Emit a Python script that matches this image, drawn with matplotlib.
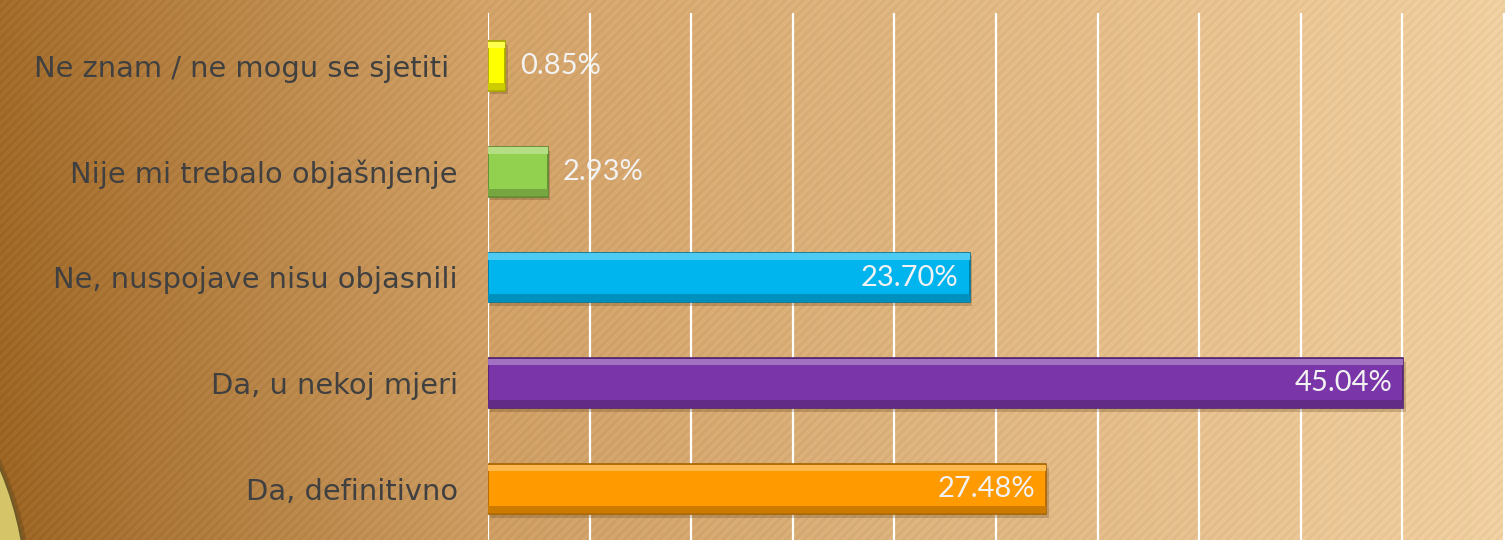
import numpy as np
import matplotlib
matplotlib.use("Agg")
import matplotlib.pyplot as plt
from matplotlib.patches import Circle
from matplotlib.colors import to_rgb

# datos del grafico
categorias = ["Ne znam / ne mogu se sjetiti ", "Nije mi trebalo objašnjenje",
              "Ne, nuspojave nisu objasnili", "Da, u nekoj mjeri", "Da, definitivno"]
valores = [0.85, 2.93, 23.70, 45.04, 27.48]
etiquetas = ["0.85%", "2.93%", "23.70%", "45.04%", "27.48%"]
colores = ["#ffff00", "#92d050", "#00b4ee", "#7a36a8", "#ff9a00"]

W, H = 1505, 540


def mezclar(c, otro, t):
    c = np.array(to_rgb(c))
    return tuple(c * (1 - t) + np.array(otro) * t)


fig = plt.figure(figsize=(W / 100, H / 100), dpi=100)

# --- fondo: degradado marron + rayas diagonales ---
fondo = fig.add_axes([0, 0, 1, 1], zorder=-5)
xx = np.arange(W)[None, :] * np.ones((H, 1))
yy = np.arange(H)[:, None] * np.ones((1, W))
stops_x = [0, 490, 1505]
stops_c = [(166, 111, 46), (214, 166, 108), (243, 210, 163)]
img = np.zeros((H, W, 3))
for k in range(3):
    img[:, :, k] = np.interp(xx, stops_x, [c[k] for c in stops_c])
img -= (yy / H)[..., None] * 8 * (1 - xx / W)[..., None]
rayas = ((xx + yy) % 9) < 4
img[rayas] -= 7
img = np.clip(img, 0, 255) / 255
fondo.imshow(img, extent=(0, W, H, 0), aspect="auto")
# circulo decorativo abajo a la izquierda
fondo.add_patch(Circle((-306, 602), 338, facecolor="#5a4418", alpha=0.35, lw=0))
fondo.add_patch(Circle((-309, 600), 336, facecolor="#d6c468", edgecolor="#6e5a28", lw=1.5))
fondo.set_xlim(0, W)
fondo.set_ylim(H, 0)
fondo.axis("off")

# --- grafico de barras ---
ax = fig.add_axes([488 / W, -2 / H, 1 - 488 / W, (H - 13 + 2) / H])
ax.set_facecolor("none")
y = np.arange(len(valores))
alto = 0.47

# sombra
ax.barh(y + 0.035, valores, height=alto, left=0.12, color="#5a3a10", alpha=0.25, zorder=2)
# barra principal
ax.barh(y, valores, height=alto, color=colores,
        edgecolor=[mezclar(c, (0, 0, 0), 0.35) for c in colores], lw=1.2, zorder=3)
# brillo arriba y oscuro abajo (bisel)
ax.barh(y - alto / 2 + 0.035, valores, height=0.06,
        color=[mezclar(c, (1, 1, 1), 0.3) for c in colores], zorder=4)
ax.barh(y + alto / 2 - 0.04, valores, height=0.07,
        color=[mezclar(c, (0, 0, 0), 0.2) for c in colores], zorder=4)

for yi, v, txt in zip(y, valores, etiquetas):
    if v < 10:
        ax.annotate(txt, (v, yi), xytext=(11, 0), textcoords="offset points",
                    ha="left", va="center", fontsize=21, family="Lato", color="#f2f2f2", zorder=6)
    else:
        ax.annotate(txt, (v, yi), xytext=(-8, 0), textcoords="offset points",
                    ha="right", va="center", fontsize=21, family="Lato", color="#f2f2f2", zorder=6)

ax.set_xlim(0, 50.05)
ax.set_ylim(len(valores) - 0.5, -0.5)
ax.set_xticks(np.arange(0, 51, 5))
ax.grid(axis="x", color="white", lw=1.6, zorder=0)
ax.set_axisbelow(True)
ax.tick_params(axis="x", length=0, labelbottom=False)
ax.set_yticks(y)
ax.set_yticklabels(categorias, fontsize=20.8, family="DejaVu Sans", color="#404040")
ax.tick_params(axis="y", length=0, pad=21.6)
for s in ax.spines.values():
    s.set_visible(False)

fig.savefig("out.png", dpi=100)
